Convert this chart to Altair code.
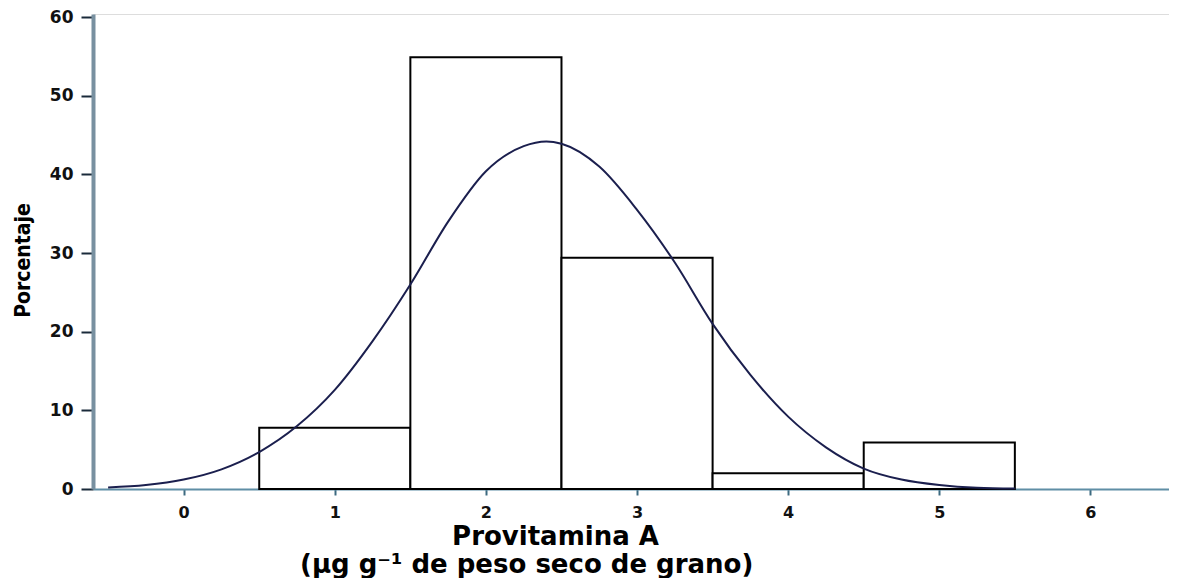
import altair as alt
import pandas as pd

# Histogram bins (Provitamina A, µg g-1) and percentages
bin_start = [0.5, 1.5, 2.5, 3.5, 4.5]
bin_end = [1.5, 2.5, 3.5, 4.5, 5.5]
pct = [7.8, 54.9, 29.4, 2.0, 5.9]

# Fitted curve
curve_x = [-0.5, -0.25, 0.0, 0.25, 0.5, 0.75, 1.0, 1.25, 1.5, 1.75, 2.0, 2.25,
           2.4, 2.5, 2.75, 3.0, 3.25, 3.5, 3.75, 4.0, 4.25, 4.5, 4.75, 5.0,
           5.25, 5.5]
curve_y = [0.2, 0.5, 1.2, 2.5, 4.7, 8.0, 12.6, 18.8, 26.0, 34.0, 40.4, 43.6,
           44.2, 43.9, 41.0, 35.5, 28.8, 21.0, 14.5, 9.2, 5.3, 2.6, 1.2, 0.5,
           0.15, 0.05]

x_ticks = [0, 1, 2, 3, 4, 5, 6]
y_ticks = [0, 10, 20, 30, 40, 50, 60]

bars_df = pd.DataFrame({"x0": bin_start, "x1": bin_end, "p": pct})
curve_df = pd.DataFrame({"x": curve_x, "y": curve_y})

x_scale = alt.Scale(domain=[-0.6, 6.52], nice=False, zero=False)
y_scale = alt.Scale(domain=[0, 60.4], nice=False)

x_axis = alt.Axis(
    values=x_ticks, format="d", title="Provitamina A",
    titleFont="DejaVu Sans", titleFontSize=26, titleFontWeight="bold",
    titleColor="#000", titleX=555 - 93, titleY=55, titleAlign="center",
    titleBaseline="alphabetic",
    labelFont="DejaVu Sans", labelFontSize=16, labelFontWeight="bold",
    labelColor="#111", labelPadding=9,
    domainColor="#5f8ea5", domainWidth=2,
    tickColor="#3d6a80", tickWidth=2, tickSize=6,
    grid=False,
)
y_axis = alt.Axis(
    values=y_ticks, title="Porcentaje",
    titleFont="DejaVu Sans Condensed", titleFontSize=21, titleFontWeight="bold",
    titleColor="#000", titleX=-70, titleY=246, titleAngle=270,
    titleAlign="center", titleBaseline="middle",
    labelFont="DejaVu Sans", labelFontSize=17, labelFontWeight="bold",
    labelColor="#111", labelPadding=8,
    domainColor="#7890a0", domainWidth=4,
    tickColor="#1a2a3a", tickWidth=2, tickSize=12,
    grid=False,
)

bars = alt.Chart(bars_df).mark_rect(
    fill="white", stroke="#000", strokeWidth=2
).encode(
    x=alt.X("x0:Q", scale=x_scale, axis=x_axis),
    x2="x1:Q",
    y=alt.Y("p:Q", scale=y_scale, axis=y_axis),
    y2=alt.datum(0),
)

curve = alt.Chart(curve_df).mark_line(
    color="#1b1f4e", strokeWidth=2, interpolate="monotone"
).encode(
    x=alt.X("x:Q", scale=x_scale),
    y=alt.Y("y:Q", scale=y_scale),
)

chart = alt.layer(bars, curve).properties(
    width=1076, height=475,
    padding={"left": 85, "top": 6, "right": 0, "bottom": 89},
    autosize=alt.AutoSizeParams(type="none"),
    title=alt.TitleParams(
        text="(µg g⁻¹ de peso seco de grano)", orient="bottom",
        anchor="start", frame="group", dx=300 - 93, offset=3,
        font="DejaVu Sans", fontSize=26, fontWeight="bold", color="#000",
    ),
).configure_view(stroke=None).configure(background="white")

chart.save("out.html", embed_options={"renderer": "svg", "actions": False})
